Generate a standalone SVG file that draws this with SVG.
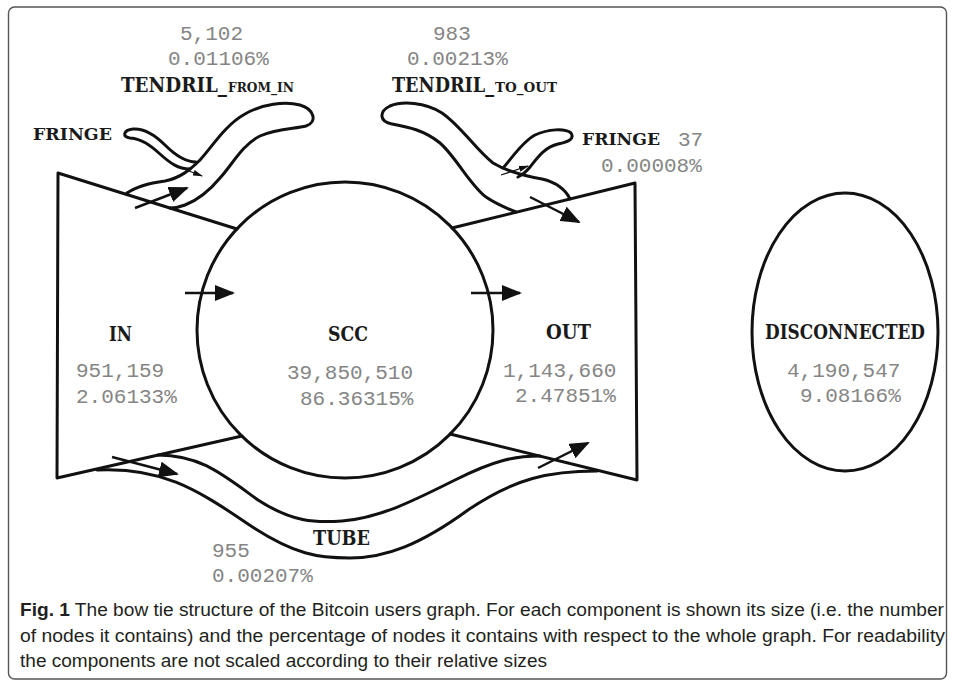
<svg xmlns="http://www.w3.org/2000/svg" width="955" height="686" viewBox="0 0 955 686">
<defs>
<style>
.ln{fill:none;stroke:#111;stroke-width:3;stroke-linejoin:round;stroke-linecap:round}
.ar{fill:none;stroke:#111;stroke-width:2.5;marker-end:url(#ah)}
.ars{fill:none;stroke:#111;stroke-width:1.2;marker-end:url(#ahs)}
.lb{font-family:"DejaVu Serif","Liberation Serif",serif;font-weight:bold;fill:#1a1a1a}
.nm{font-family:"Liberation Mono","Courier New",monospace;font-size:21px;fill:#858585}
.cap{font-family:"Liberation Sans Narrow","Liberation Sans",sans-serif;font-size:17.5px;fill:#231f20}
</style>
<marker id="ah" markerUnits="userSpaceOnUse" viewBox="0 0 20 16" markerWidth="20" markerHeight="16" refX="18" refY="8" orient="auto"><path d="M0,0 L20,8 L0,16 z" fill="#111"/></marker>
<marker id="ahs" markerUnits="userSpaceOnUse" viewBox="0 0 10 6" markerWidth="10" markerHeight="6" refX="9" refY="3" orient="auto"><path d="M0,0 L10,3 L0,6 z" fill="#111"/></marker>
</defs>
<rect x="0" y="0" width="955" height="686" fill="#fff"/>
<rect id="frame" x="8.5" y="7" width="938" height="672" rx="6" fill="none" stroke="#555" stroke-width="1.4"/>

<g id="node-in">
<polyline class="ln" points="237,229 58,173 57,478 242,436"/>
<text class="lb" x="109" y="341" font-size="21" textLength="23" lengthAdjust="spacingAndGlyphs">IN</text>
<text class="nm" x="76" y="377">951,159</text>
<text class="nm" x="76" y="403">2.06133%</text>
</g>

<g id="node-scc">
<circle class="ln" cx="345" cy="330" r="148"/>
<text class="lb" x="328" y="341" font-size="21" textLength="40" lengthAdjust="spacingAndGlyphs">SCC</text>
<text class="nm" x="287" y="379">39,850,510</text>
<text class="nm" x="300" y="405">86.36315%</text>
</g>

<g id="node-out">
<polyline class="ln" points="452,228 635,183 637,480 450,434"/>
<text class="lb" x="546" y="339" font-size="21" textLength="45" lengthAdjust="spacingAndGlyphs">OUT</text>
<text class="nm" x="503" y="377">1,143,660</text>
<text class="nm" x="515" y="402">2.47851%</text>
</g>

<g id="node-disconnected">
<ellipse class="ln" cx="845" cy="332" rx="93" ry="139"/>
<text class="lb" x="765" y="339" font-size="20" textLength="160" lengthAdjust="spacingAndGlyphs">DISCONNECTED</text>
<text class="nm" x="787" y="377">4,190,547</text>
<text class="nm" x="800" y="402">9.08166%</text>
</g>

<g id="node-tendril-from-in">
<path class="ln" d="M127,193 C137,186 150,183 165,181 C180,178 190,170 200,160 C212,147 225,125 245,114 C262,104 285,101 300,105 C314,109 318,122 306,126 C295,129 278,128 260,136 C242,145 232,165 220,178 C210,190 198,200 185,205 C180,207 175,208 170,208"/>
<text class="lb" y="92"><tspan x="121" font-size="21" textLength="106" lengthAdjust="spacingAndGlyphs">TENDRIL_</tspan><tspan x="228" font-size="13" textLength="66" lengthAdjust="spacingAndGlyphs">FROM_IN</tspan></text>
<text class="nm" x="180" y="40">5,102</text>
<text class="nm" x="168" y="65">0.01106%</text>
</g>

<g id="node-fringe-in">
<path class="ln" d="M196,162 C185,162 175,155 165,145 C155,135 145,128 133,129 C123,130 122,137 130,138 C142,139 150,145 160,154 C170,163 178,169 190,169"/>
<text class="lb" x="33" y="140" font-size="17" textLength="79" lengthAdjust="spacingAndGlyphs">FRINGE</text>
</g>

<g id="node-tendril-to-out">
<path class="ln" d="M570,199 C566,190 556,182 542,179 C525,176 508,172 493,163 C476,150 462,127 442,113 C425,102 402,101 390,106 C378,112 380,122 392,124 C408,127 424,130 440,143 C456,157 470,185 486,197 C496,204 506,208 516,212"/>
<text class="lb" y="92"><tspan x="392" font-size="21" textLength="102" lengthAdjust="spacingAndGlyphs">TENDRIL_</tspan><tspan x="495" font-size="13" textLength="62" lengthAdjust="spacingAndGlyphs">TO_OUT</tspan></text>
<text class="nm" x="433" y="40">983</text>
<text class="nm" x="407" y="65">0.00213%</text>
</g>

<g id="node-fringe-out">
<path class="ln" d="M503,168 C512,158 522,142 535,135 C548,129 565,128 571,133 C575,139 568,142 558,144 C545,147 538,157 530,167 C526,172 522,175 518,177"/>
<text class="lb" x="582" y="145" font-size="17" textLength="78" lengthAdjust="spacingAndGlyphs">FRINGE</text>
<text class="nm" x="678" y="146">37</text>
<text class="nm" x="601" y="172">0.00008%</text>
</g>

<g id="node-tube">
<path class="ln" d="M158,455 C200,455 222,474 258,500 C292,522 315,523 342,521 C380,518 415,500 455,480 C495,460 515,456 540,456"/>
<path class="ln" d="M97,470 C160,467 195,488 245,522 C295,556 320,558 350,558 C385,558 420,545 468,510 C515,478 550,471 597,471"/>
<text class="lb" x="313" y="545" font-size="20" textLength="57" lengthAdjust="spacingAndGlyphs">TUBE</text>
<text class="nm" x="212" y="557">955</text>
<text class="nm" x="212" y="582">0.00207%</text>
</g>

<g id="connectors">
<line class="ar" x1="185" y1="293" x2="233" y2="293"/>
<line class="ar" x1="471" y1="293" x2="520" y2="293"/>
<line class="ar" x1="135" y1="208" x2="187" y2="188"/>
<line class="ar" x1="530" y1="197" x2="579" y2="222"/>
<line class="ar" x1="112" y1="457" x2="177" y2="474"/>
<line class="ar" x1="538" y1="468" x2="588" y2="443"/>
<line class="ars" x1="176" y1="166" x2="202" y2="176"/>
<line class="ars" x1="501" y1="175" x2="528" y2="166"/>
</g>

<g id="caption">
<text class="cap" x="20" y="616" textLength="924" lengthAdjust="spacingAndGlyphs"><tspan font-weight="bold">Fig. 1</tspan>  The bow tie structure of the Bitcoin users graph. For each component is shown its size (i.e. the number</text>
<text class="cap" x="20" y="642" textLength="925" lengthAdjust="spacingAndGlyphs">of nodes it contains) and the percentage of nodes it contains with respect to the whole graph. For readability</text>
<text class="cap" x="20" y="667" textLength="527" lengthAdjust="spacingAndGlyphs">the components are not scaled according to their relative sizes</text>
</g>
</svg>
